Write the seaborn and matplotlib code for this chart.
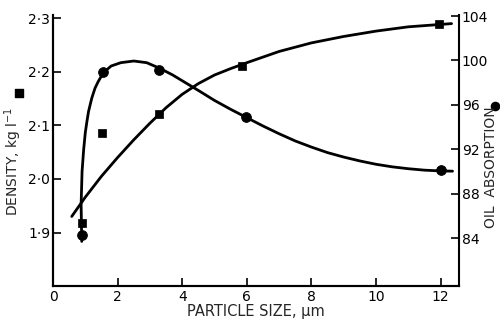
import matplotlib
matplotlib.use("Agg")
import matplotlib.pyplot as plt
import seaborn as sns

# measured points
size_density = [0.89, 1.51, 3.28, 5.86, 11.95]
density = [1.918, 2.085, 2.121, 2.211, 2.289]
size_oil = [0.89, 1.56, 3.28, 5.96, 12.0]
oil = [84.3, 99.0, 99.1, 94.9, 90.1]

# hand-drawn fitted curves
curve_d_x = [0.58, 1.0, 1.5, 2.0, 2.5, 3.0, 3.5, 4.0, 4.5, 5.0, 5.5, 6.0,
             7.0, 8.0, 9.0, 10.0, 11.0, 12.34]
curve_d_y = [1.930, 1.966, 2.005, 2.040, 2.073, 2.104, 2.133, 2.158, 2.178, 2.194,
             2.206, 2.217, 2.238, 2.254, 2.266, 2.276, 2.284, 2.290]
curve_o_x = [0.89, 0.87, 0.87, 0.90, 0.95, 1.0, 1.05, 1.1, 1.2, 1.3, 1.4, 1.5, 1.6,
             1.8, 2.1, 2.5, 2.9, 3.3, 3.7, 4.1, 4.5, 5.0, 5.5, 6.0, 6.5, 7.0, 7.5,
             8.0, 8.5, 9.0, 9.5, 10.0, 10.5, 11.0, 11.5, 12.0, 12.37]
curve_o_y = [83.7, 86.0, 88.0, 90.0, 92.0, 93.5, 94.5, 95.4, 96.6, 97.5, 98.1, 98.6, 99.0,
             99.5, 99.8, 99.95, 99.8, 99.3, 98.7, 98.0, 97.3, 96.4, 95.6, 94.85, 94.1, 93.4, 92.75,
             92.2, 91.7, 91.3, 90.95, 90.65, 90.42, 90.25, 90.12, 90.05, 90.03]

x_ticks = [0, 2, 4, 6, 8, 10, 12]
left_ticks = [1.9, 2.0, 2.1, 2.2, 2.3]
left_labels = ["1·9", "2·0", "2·1", "2·2", "2·3"]
right_ticks = [84, 88, 92, 96, 100, 104]

sns.set_style("ticks")
plt.rcParams['font.family'] = ['DejaVu Sans']

fig = plt.figure(figsize=(5, 3.2), dpi=100)
ax = fig.add_axes([0.106, 0.106, 0.812, 0.847])
ax2 = ax.twinx()

sns.lineplot(x=curve_d_x, y=curve_d_y, ax=ax, color="black", lw=2, sort=False)
sns.scatterplot(x=size_density, y=density, ax=ax, marker="s", s=40, color="black", edgecolor="black", zorder=5)
sns.lineplot(x=curve_o_x, y=curve_o_y, ax=ax2, color="black", lw=2, sort=False)
sns.scatterplot(x=size_oil, y=oil, ax=ax2, marker="o", s=50, color="black", edgecolor="black", zorder=5)

ax.set_xlim(0, 12.57)
ax.set_ylim(1.8, 2.306)
ax2.set_ylim(79.68, 104.09)

ax.set_xticks(x_ticks)
ax.set_xticklabels([str(t) for t in x_ticks])
ax.set_yticks(left_ticks)
ax.set_yticklabels(left_labels)
ax2.set_yticks(right_ticks)

for a in (ax, ax2):
    a.tick_params(direction="in", length=6, width=1.2, labelsize=10, colors="black")
    a.spines["top"].set_visible(False)
    for s in ("left", "right", "bottom"):
        a.spines[s].set_linewidth(1.5)
        a.spines[s].set_color("black")
ax.spines["right"].set_visible(False)
ax.tick_params(axis="y", pad=2)
ax.tick_params(axis="x", pad=3)
ax2.tick_params(axis="y", pad=2)

ax.set_xlabel("PARTICLE SIZE, µm", fontsize=10.5, labelpad=0)
ax.set_ylabel("")
ax2.set_ylabel("")

fig.text(0.026, 0.495, r"DENSITY, kg l$^{-1}$", rotation=90, fontsize=10, ha="center", va="center")
fig.text(0.982, 0.478, "OIL  ABSORPTION", rotation=90, fontsize=10, ha="center", va="center")
ax.scatter([0.038], [0.71], transform=fig.transFigure, marker="s", s=35, color="black", clip_on=False)
ax.scatter([0.99], [0.668], transform=fig.transFigure, marker="o", s=35, color="black", clip_on=False)

fig.savefig("out.png", dpi=100)
